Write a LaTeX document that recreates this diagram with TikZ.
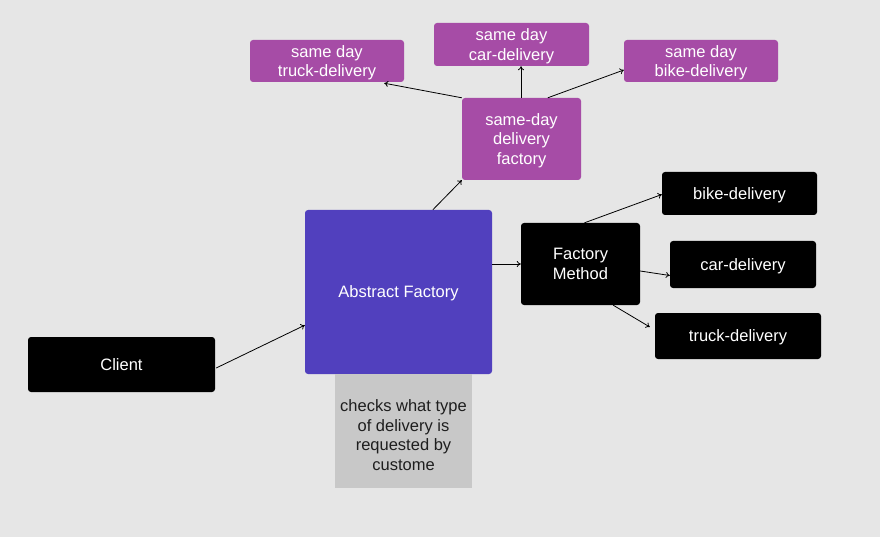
\documentclass[tikz,border=0pt]{standalone}
\usepackage{fontspec}
\setmainfont{Liberation Sans}
\usetikzlibrary{arrows.meta,calc}
\definecolor{bg}{RGB}{230,230,230}
\definecolor{purp}{RGB}{166,76,166}
\definecolor{indig}{RGB}{81,64,190}
\definecolor{notegray}{RGB}{200,200,200}
\definecolor{notetext}{RGB}{30,30,30}
\tikzset{
  box/.style={rectangle, rounded corners=3pt, inner sep=0pt, text=white, align=center,
    text depth=0pt, font=\fontsize{16.5}{19.5}\selectfont},
  pbox/.style={box, fill=purp},
  kbox/.style={box, fill=black},
  notebox/.style={rectangle, fill=notegray, inner sep=0pt, align=center,
    text=notetext, font=\fontsize{16.5}{19.5}\selectfont},
  conn/.style={-{To[length=4pt,width=6pt]}, line width=0.8pt, black},
}
\begin{document}
\begin{tikzpicture}[x=1pt,y=-1pt]
\fill[bg] (0,0) rectangle (880,537);
\useasboundingbox (0,0) rectangle (880,537);
% purple boxes
\node[pbox, minimum width=154pt, minimum height=42pt] (sdtruck) at (327,61) {same day\\truck-delivery};
\node[pbox, minimum width=155pt, minimum height=43pt] (sdcar) at (511.5,44.5) {same day\\car-delivery};
\node[pbox, minimum width=154pt, minimum height=42pt] (sdbike) at (701,61) {same day\\bike-delivery};
\node[pbox, minimum width=119pt, minimum height=82pt] (sdf) at (521.5,139) {same-day\\delivery\\factory};
% abstract factory
\node[box, fill=indig, minimum width=187pt, minimum height=164pt] (af) at (398.5,292) {Abstract Factory};
% note
\node[notebox, minimum width=137pt, minimum height=114pt, anchor=north] (note) at (403.5,374) {\rule{0pt}{20pt}checks what type\\of delivery is\\requested by\\custome};
% black boxes
\node[kbox, minimum width=187pt, minimum height=55pt] (client) at (121.5,364.5) {Client};
\node[kbox, minimum width=119pt, minimum height=82pt] (fm) at (580.5,264) {Factory\\Method};
\node[kbox, minimum width=155pt, minimum height=43pt] (bike) at (739.5,193.5) {bike-delivery};
\node[kbox, minimum width=146pt, minimum height=47pt] (car) at (743,264.5) {car-delivery};
\node[kbox, minimum width=166pt, minimum height=46pt] (truck) at (738,336) {truck-delivery};
% connectors
\draw[conn] ($(client.east)+(1,3.5)$) -- ($(af.south west)+(0,-49)$);
\draw[conn] ($(af.north west)+(128,0)$) -- (sdf.south west);
\draw[conn] (sdf.north west) -- ($(sdtruck.south east)+(-20,1)$);
\draw[conn] ($(sdf.north)+(-0.5,0)$) -- ($(sdf.north |- sdcar.south)+(-0.5,0)$);
\draw[conn] ($(sdf.north west)+(86,0)$) -- ($(sdbike.west)+(0,9)$);
\draw[conn] (af.east |- fm.west) -- (fm.west);
\draw[conn] ($(fm.north)+(4,0)$) -- ($(bike.west)+(0,1)$);
\draw[conn] ($(fm.east)+(0,7)$) -- ($(car.west)+(0,11)$);
\draw[conn] ($(fm.south east)+(-27,0)$) -- ($(truck.west)+(-5,-9)$);
\end{tikzpicture}
\end{document}
